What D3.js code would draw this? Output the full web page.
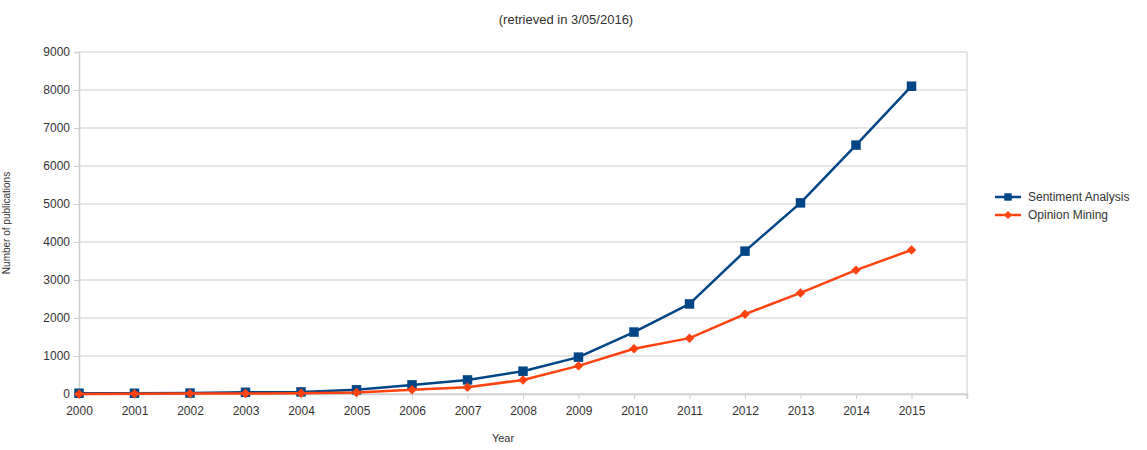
<!DOCTYPE html>
<html><head><meta charset="utf-8">
<script src="https://cdn.jsdelivr.net/npm/d3@7"></script>
<style>body{margin:0;background:#fff;} text{font-family:"Liberation Sans",Arial,sans-serif;fill:#333;}</style>
</head><body><svg id="c" width="1147" height="450"></svg>
<script>
const years = [2000,2001,2002,2003,2004,2005,2006,2007,2008,2009,2010,2011,2012,2013,2014,2015];
const sentiment = [20,20,25,45,55,110,240,370,600,970,1630,2370,3760,5030,6550,8100];
const opinion = [0,5,10,15,20,40,110,180,370,740,1190,1470,2100,2660,3260,3790];
const yTicks = [0,1000,2000,3000,4000,5000,6000,7000,8000,9000];
const seriesNames = ["Sentiment Analysis","Opinion Mining"];
const colors = ["#004586","#ff420e"];

const svg = d3.select("#c");
const L=79,R=967,T=52,B=394;
const x = d3.scaleLinear().domain([2000,2016]).range([L,R]);
const y = d3.scaleLinear().domain([0,9000]).range([B,T]);

// grid
svg.append("g").selectAll("line").data(yTicks).join("line")
  .attr("x1",L).attr("x2",R).attr("y1",d=>y(d)).attr("y2",d=>y(d))
  .attr("stroke","#dcdcdc").attr("stroke-width",1.5);
svg.append("line").attr("x1",R).attr("x2",R).attr("y1",T).attr("y2",B+5).attr("stroke","#dcdcdc").attr("stroke-width",1.5);

// axes
const ya = svg.append("g").attr("transform",`translate(${L},0)`)
  .call(d3.axisLeft(y).tickValues(yTicks).tickFormat(d3.format("d")).tickSize(5).tickPadding(4));
ya.select(".domain").attr("stroke","#cfcfcf").attr("stroke-width",1.5);
ya.selectAll(".tick line").attr("stroke","#cfcfcf");
ya.selectAll("text").style("font-size","12px").attr("fill","#333");

const xa = svg.append("g").attr("transform",`translate(0,${B})`)
  .call(d3.axisBottom(x).tickValues(years.concat([2016])).tickFormat(d=>d===2016?"":d).tickSize(5).tickPadding(7));
xa.select(".domain").attr("stroke","#cfcfcf").attr("stroke-width",1.5);
xa.selectAll(".tick line").attr("stroke","#cfcfcf");
xa.selectAll("text").style("font-size","12px").attr("fill","#333");

// title & axis labels
svg.append("text").attr("x",566).attr("y",24).attr("text-anchor","middle").style("font-size","13px").text("(retrieved in 3/05/2016)");
svg.append("text").attr("x",503).attr("y",442).attr("text-anchor","middle").style("font-size","11px").text("Year");
svg.append("text").attr("transform","translate(10,223) rotate(-90)").attr("text-anchor","middle").style("font-size","10px").text("Number of publications");

const line = d3.line().x((d,i)=>x(years[i])).y(d=>y(d));
const data = [sentiment, opinion];
const rot = [0, 45];
const sizes = [90, 45];
data.forEach((s,k)=>{
  svg.append("path").datum(s).attr("d",line).attr("fill","none").attr("stroke",colors[k]).attr("stroke-width",2.5).attr("stroke-linejoin","round");
  svg.append("g").selectAll("path").data(s).join("path")
    .attr("transform",(d,i)=>`translate(${x(years[i])},${y(d)}) rotate(${rot[k]})`)
    .attr("d",d3.symbol().type(d3.symbolSquare).size(sizes[k])).attr("fill",colors[k]);
});

// legend
seriesNames.forEach((n,k)=>{
  const ly = 197 + k*18;
  svg.append("line").attr("x1",995).attr("x2",1021).attr("y1",ly).attr("y2",ly).attr("stroke",colors[k]).attr("stroke-width",2.5);
  svg.append("path").attr("transform",`translate(1008,${ly}) rotate(${rot[k]})`).attr("d",d3.symbol().type(d3.symbolSquare).size(k?32:55)).attr("fill",colors[k]);
  svg.append("text").attr("x",1028).attr("y",ly+4).style("font-size","12px").text(n);
});
</script></body></html>
